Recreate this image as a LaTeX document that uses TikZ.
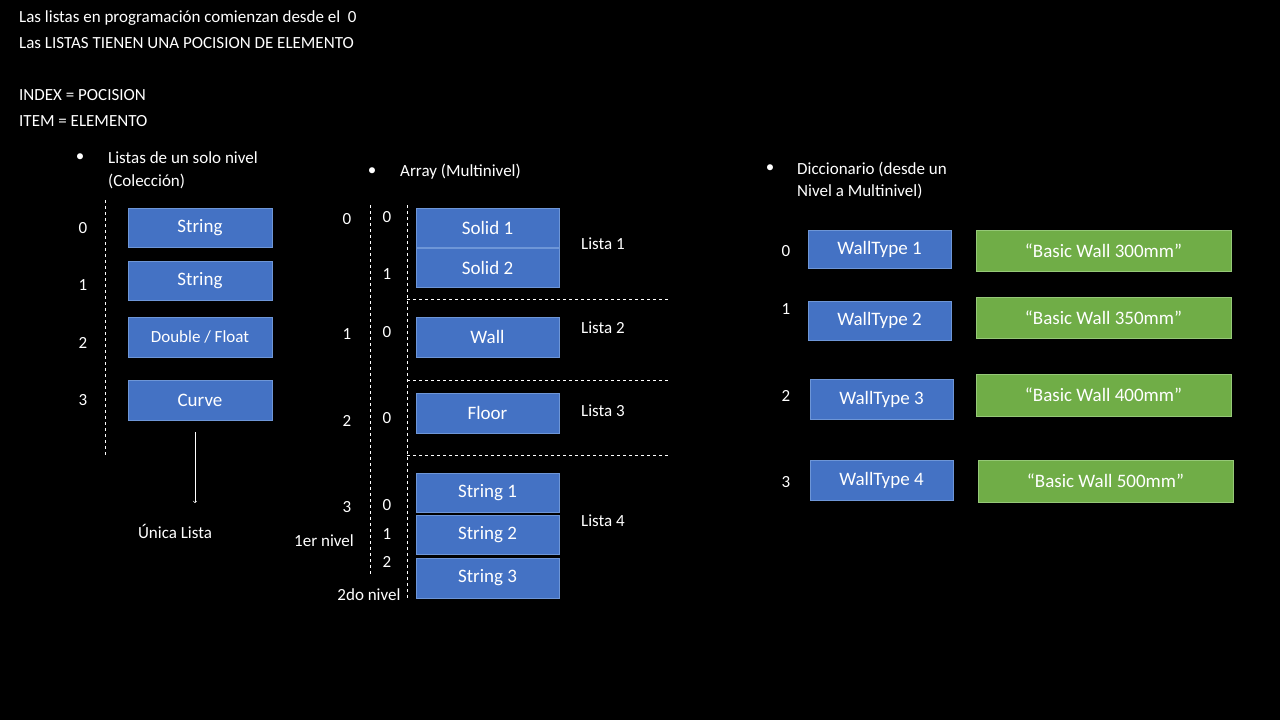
\documentclass[tikz,border=0pt]{standalone}
\usepackage{fontspec}
\setmainfont{Carlito}
\begin{document}
\begin{tikzpicture}[x=1pt,y=-1pt,
 txt/.style={text=white,font=\fontsize{17}{19}\selectfont,inner sep=0pt},
 bx/.style={draw={rgb,255:red,110;green,150;blue,215},line width=0.8pt,fill={rgb,255:red,68;green,114;blue,196},text=white,font=\fontsize{19}{21}\selectfont,inner sep=0pt},
 gb/.style={draw={rgb,255:red,150;green,200;blue,120},line width=0.8pt,fill={rgb,255:red,112;green,173;blue,71},text=white,font=\fontsize{19}{21}\selectfont,inner sep=0pt},
 dl/.style={draw=white,dashed,line width=0.6pt}]
\fill[black] (0,0) rectangle (1280,720);
\useasboundingbox (0,0) rectangle (1280,720);
\node[txt,anchor=west] (t1) at (19,18) {Las listas en programación comienzan desde el\ \ 0};
\node[txt,anchor=west] (t2) at (19,43) {Las LISTAS TIENEN UNA POCISION DE ELEMENTO};
\node[txt,anchor=west] (t3) at (19,95) {INDEX = POCISION};
\node[txt,anchor=west] (t4) at (19,121) {ITEM = ELEMENTO};
% single list
\node[txt] (b1) at (80,158) {•};
\node[txt,anchor=west] (h1) at (108,158) {Listas de un solo nivel};
\node[txt,anchor=west] (h1b) at (108,181) {(Colección)};
\draw[dl] (105,200) -- (105,455);
\node[bx,minimum width=144pt,minimum height=39pt] (s1) at (200,227.5) {String};
\node[bx,minimum width=144pt,minimum height=39pt] (s2) at (200,280.5) {String};
\node[bx,minimum width=144pt,minimum height=40pt,font=\fontsize{17}{19}\selectfont] (s3) at (200,337) {Double / Float};
\node[bx,minimum width=144pt,minimum height=40pt] (s4) at (200,400) {Curve};
\foreach \n/\y in {0/228,1/285,2/343,3/400} \node[txt] (n\n) at (83,\y) {\n};
\node[txt] (ul) at (175,531) {Única Lista};
\coordinate (a1) at (195,432); \coordinate (a2) at (195,503);
\draw[white,->,line width=0.6pt] (a1) -- (a2);
% array
\node[txt] (b2) at (372,172) {•};
\node[txt,anchor=west] (h2) at (400,172) {Array (Multinivel)};
\draw[dl] (370,205) -- (370,575);
\draw[dl] (407,205) -- (407,600);
\foreach \y in {299,380,455} \draw[dl] (407,\y) -- (670,\y);
\foreach \n/\y [count=\i] in {0/219,1/334,2/421,3/507} \node[txt] (o\i) at (347,\y) {\n};
\foreach \n/\y [count=\i] in {0/217,1/274,0/332,0/418,0/505,1/534,2/562} \node[txt] (i\i) at (387,\y) {\n};
\node[bx,minimum width=143pt,minimum height=39pt] (a1b) at (487.5,227.5) {Solid 1};
\node[bx,minimum width=143pt,minimum height=39pt] (a2b) at (487.5,267.5) {Solid 2};
\node[bx,minimum width=143pt,minimum height=40pt] (a3b) at (487.5,337) {Wall};
\node[bx,minimum width=143pt,minimum height=40pt] (a4b) at (487.5,413) {Floor};
\node[bx,minimum width=143pt,minimum height=39pt] (a5b) at (487.5,492.5) {String 1};
\node[bx,minimum width=143pt,minimum height=39pt] (a6b) at (487.5,534.5) {String 2};
\node[bx,minimum width=143pt,minimum height=40pt] (a7b) at (487.5,578) {String 3};
\foreach \n/\y in {1/244,2/328,3/411,4/521} \node[txt,anchor=west] (l\n) at (581,\y) {Lista \n};
\node[txt] (n1) at (324,541) {1er nivel};
\node[txt] (n2) at (369,595) {2do nivel};
% dictionary
\node[txt] (b3) at (770,169) {•};
\node[txt,anchor=west] (h3) at (797,169) {Diccionario (desde un};
\node[txt,anchor=west] (h3b) at (797,191) {Nivel a Multinivel)};
\foreach \n/\y in {0/251,1/309,2/396,3/482} \node[txt] (d\n) at (786,\y) {\n};
\node[bx,minimum width=143pt,minimum height=38pt] (w1) at (879.5,249) {WallType 1};
\node[bx,minimum width=143pt,minimum height=39pt] (w2) at (879.5,320.5) {WallType 2};
\node[bx,minimum width=143pt,minimum height=40pt] (w3) at (881.5,399) {WallType 3};
\node[bx,minimum width=143pt,minimum height=40pt] (w4) at (881.5,480) {WallType 4};
\node[gb,minimum width=255pt,minimum height=41pt] (g1) at (1103.5,250.5) {“Basic Wall 300mm”};
\node[gb,minimum width=255pt,minimum height=41pt] (g2) at (1103.5,317.5) {“Basic Wall 350mm”};
\node[gb,minimum width=255pt,minimum height=42pt] (g3) at (1103.5,395) {“Basic Wall 400mm”};
\node[gb,minimum width=255pt,minimum height=42pt] (g4) at (1105.5,481) {“Basic Wall 500mm”};
\end{tikzpicture}
\end{document}
